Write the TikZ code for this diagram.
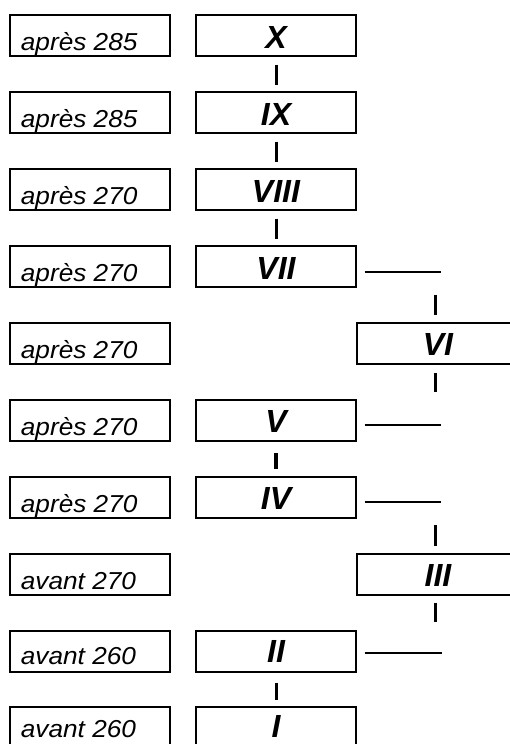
\documentclass[tikz,border=0pt]{standalone}
\usepackage{graphicx}
\usepackage{fontspec}
\setmainfont{Liberation Sans}
\begin{document}
\begin{tikzpicture}[x=1pt,y=1pt,
  frame/.style={draw, line width=2pt, inner sep=0pt, outer sep=0pt, minimum height=41pt},
  leftbox/.style={frame, minimum width=159.5pt},
  midbox/.style={frame, minimum width=160pt},
  rightbox/.style={frame, minimum width=162pt},
  datetxt/.style={anchor=base west, inner sep=0pt, font=\fontsize{24.5}{28}\selectfont\itshape},
  numtxt/.style={anchor=base, inner sep=0pt, font=\fontsize{32}{36}\selectfont\bfseries\itshape},
  tick/.style={line width=3pt},
  hline/.style={line width=2pt}]
\useasboundingbox (0,0) rectangle (510,-744);
% left date boxes
\foreach \i/\t/\dy in {0/après 285/5.6,1/après 285/5.6,2/après 270/5.6,3/après 270/5.6,4/après 270/5.6,5/après 270/5.6,6/après 270/5.6,7/avant 270/5.6,8/avant 260/6.6,9/avant 260/11}{
  \node[leftbox] (L\i) at (89.75,{-(35.8+76.9*\i)}) {};
  \node[datetxt] (D\i) at ([xshift=10.7pt,yshift=\dy pt]L\i.south west) {\scalebox{1.07}[1]{\t}};
}
% middle column
\foreach \i/\t/\dy in {0/X/8,1/IX/8,2/VIII/8,3/VII/8,5/V/8,6/IV/8,8/II/9,9/I/11}{
  \node[midbox] (M\i) at (276,{-(35.8+76.9*\i)}) {};
  \node[numtxt] (N\i) at ([yshift=\dy pt]M\i.south) {\t};
}
% right column
\foreach \i/\t in {4/VI,7/III}{
  \node[rightbox] (R\i) at (438,{-(35.8+76.9*\i)}) {};
  \node[numtxt] (N\i) at ([yshift=8pt]R\i.south) {\t};
}
% middle ticks
\draw[tick, shorten <=8.4pt, shorten >=7.5pt] (M0.south) -- (M1.north);
\draw[tick, shorten <=8.4pt, shorten >=7.5pt] (M1.south) -- (M2.north);
\draw[tick, shorten <=8.4pt, shorten >=7.5pt] (M2.south) -- (M3.north);
\draw[line width=4pt, shorten <=12.5pt, shorten >=7.5pt] (M5.south) -- (M6.north);
\draw[tick, shorten <=11.7pt, shorten >=7pt] (M8.south) -- (M9.north);
% horizontal dashes to the right
\coordinate (c3) at (435.5,-271.7);
\coordinate (c5) at (435.5,-425);
\coordinate (c6) at (435.5,-502);
\coordinate (c8) at (435.5,-653.3);
\draw[hline] (M3.east |- c3) ++(8.5,0) coordinate (s3) -- (441,-271.7) coordinate (e3);
\draw[hline] (M5.east |- c5) ++(8.5,0) coordinate (s5) -- (441,-425) coordinate (e5);
\draw[hline] (M6.east |- c6) ++(8.5,0) coordinate (s6) -- (441,-502) coordinate (e6);
\draw[hline] (M8.east |- c8) ++(8.5,0) coordinate (s8) -- (441.5,-653.3) coordinate (e8);
% right ticks
\draw[tick, shorten <=23pt, shorten >=8pt] (c3) -- (c3 |- R4.north);
\draw[tick, shorten <=9pt, shorten >=33pt] (c3 |- R4.south) -- (c5);
\draw[tick, shorten <=23pt, shorten >=8pt] (c6) -- (c6 |- R7.north);
\draw[tick, shorten <=8pt, shorten >=31.6pt] (c6 |- R7.south) -- (c8);
\end{tikzpicture}
\end{document}
